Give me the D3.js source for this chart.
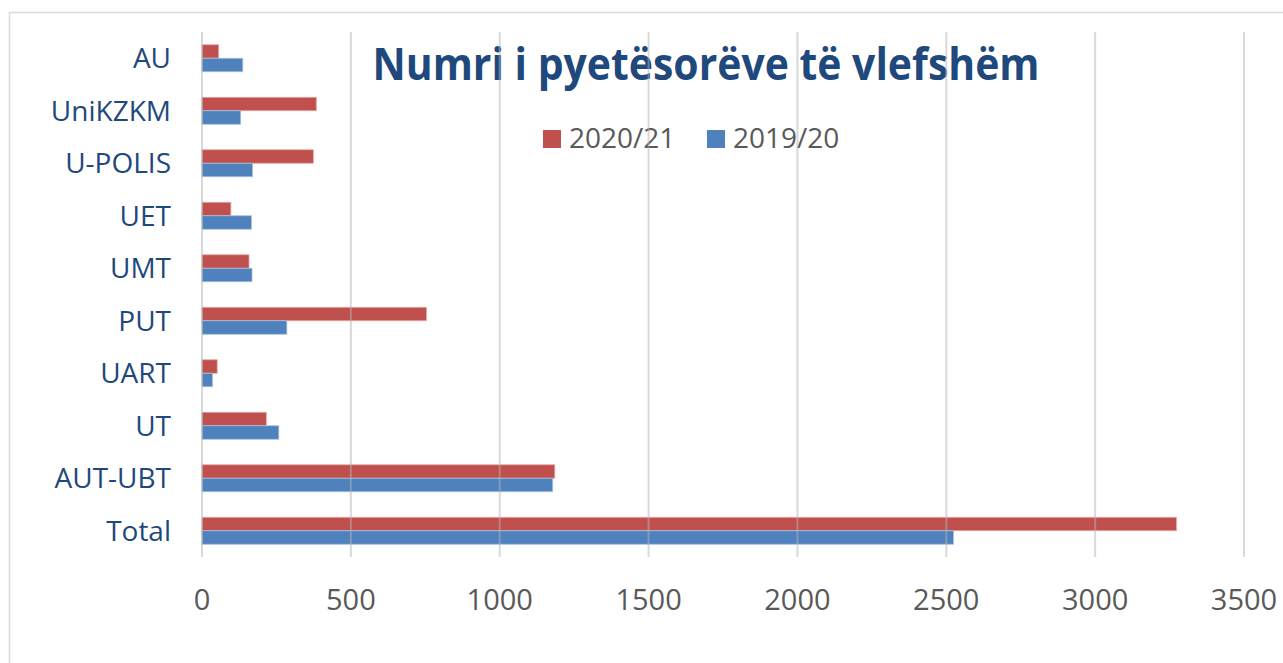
<!DOCTYPE html>
<html>
<head>
<meta charset="utf-8">
<script src="https://cdn.jsdelivr.net/npm/d3@7"></script>
<style>
  body { margin: 0; background: #fff; }
  svg text { font-family: "Open Sans", "Noto Sans", sans-serif; }
</style>
</head>
<body>
<svg id="barChart"></svg>
<script>
// data
const categories = ["AU", "UniKZKM", "U-POLIS", "UET", "UMT", "PUT", "UART", "UT", "AUT-UBT", "Total"];
const series = ["2020/21", "2019/20"];
const values2021 = [56, 384, 374, 97, 158, 754, 51, 216, 1185, 3273];
const values1920 = [137, 130, 170, 166, 168, 285, 35, 258, 1178, 2524];
const xTicks = [0, 500, 1000, 1500, 2000, 2500, 3000, 3500];
const colors = { "2020/21": "#c0504d", "2019/20": "#4f81bd" };
const titleText = "Numri i pyetësorëve të vlefshëm";

const width = 1283;
const height = 663;
const margin = { top: 32, right: 39, bottom: 106, left: 202 };

let svg = d3.select('#barChart')
    .attr('width', width)
    .attr('height', height);

const rows = categories.map((c, i) => ({ cat: c, "2020/21": values2021[i], "2019/20": values1920[i] }));

const xScale = d3.scaleLinear()
    .domain([0, 3500])
    .range([margin.left, width - margin.right]);

const yScale = d3.scaleBand()
    .domain(categories)
    .range([margin.top, height - margin.bottom])
    .paddingInner(0.486)
    .paddingOuter(0.243);

const subScale = d3.scaleBand()
    .domain(series)
    .range([0, yScale.bandwidth()]);

// chart border
svg.append('rect')
    .attr('x', 9.5).attr('y', 12.5)
    .attr('width', width + 20).attr('height', height + 20)
    .attr('fill', 'none')
    .attr('stroke', '#d9d9d9')
    .attr('stroke-width', 1.5);

// title
svg.append('text')
    .attr('x', 706)
    .attr('y', 80)
    .attr('text-anchor', 'middle')
    .attr('font-size', 44)
    .attr('font-weight', 'bold')
    .attr('fill', '#1f497d')
    .attr('textLength', 667)
    .attr('lengthAdjust', 'spacingAndGlyphs')
    .text(titleText);

// legend
const legendX = [543, 707];
let legend = svg.selectAll('.legend')
    .data(series)
    .enter()
    .append('g')
    .attr('class', 'legend')
    .attr('transform', (d, i) => `translate(${legendX[i]},130)`);

legend.append('rect')
    .attr('width', 18).attr('height', 18)
    .attr('fill', d => colors[d]);

legend.append('text')
    .attr('x', 26)
    .attr('y', 18)
    .attr('font-size', 28)
    .attr('fill', '#595959')
    .text(d => d);

// bars
let groups = svg.selectAll('.cat')
    .data(rows)
    .enter()
    .append('g')
    .attr('class', 'cat')
    .attr('transform', d => `translate(0,${yScale(d.cat)})`);

groups.selectAll('rect')
    .data(d => series.map(s => ({ key: s, value: d[s] })))
    .enter()
    .append('rect')
    .attr('x', xScale(0))
    .attr('y', d => subScale(d.key))
    .attr('width', d => xScale(d.value) - xScale(0))
    .attr('height', subScale.bandwidth())
    .attr('fill', d => colors[d.key])
    .attr('stroke', d => d.key === "2020/21" ? "#e7a9a7" : "#a9c0de")
    .attr('stroke-width', 0.8);

// gridlines on top (they show through the bars and the title)
svg.append('g')
    .selectAll('line')
    .data(xTicks)
    .enter()
    .append('line')
    .attr('x1', d => xScale(d))
    .attr('x2', d => xScale(d))
    .attr('y1', margin.top)
    .attr('y2', height - margin.bottom)
    .attr('stroke', '#b3b3b3')
    .attr('stroke-opacity', 0.5)
    .attr('stroke-width', 2);

// x tick labels
svg.append('g')
    .selectAll('text')
    .data(xTicks)
    .enter()
    .append('text')
    .attr('x', d => xScale(d))
    .attr('y', 610)
    .attr('text-anchor', 'middle')
    .attr('font-size', 29)
    .attr('fill', '#595959')
    .text(d => d);

// category labels
svg.append('g')
    .selectAll('text')
    .data(categories)
    .enter()
    .append('text')
    .attr('x', 171)
    .attr('y', d => yScale(d) + yScale.bandwidth() / 2)
    .attr('dy', '0.36em')
    .attr('text-anchor', 'end')
    .attr('font-size', 28)
    .attr('fill', '#1f497d')
    .text(d => d);
</script>
</body>
</html>
